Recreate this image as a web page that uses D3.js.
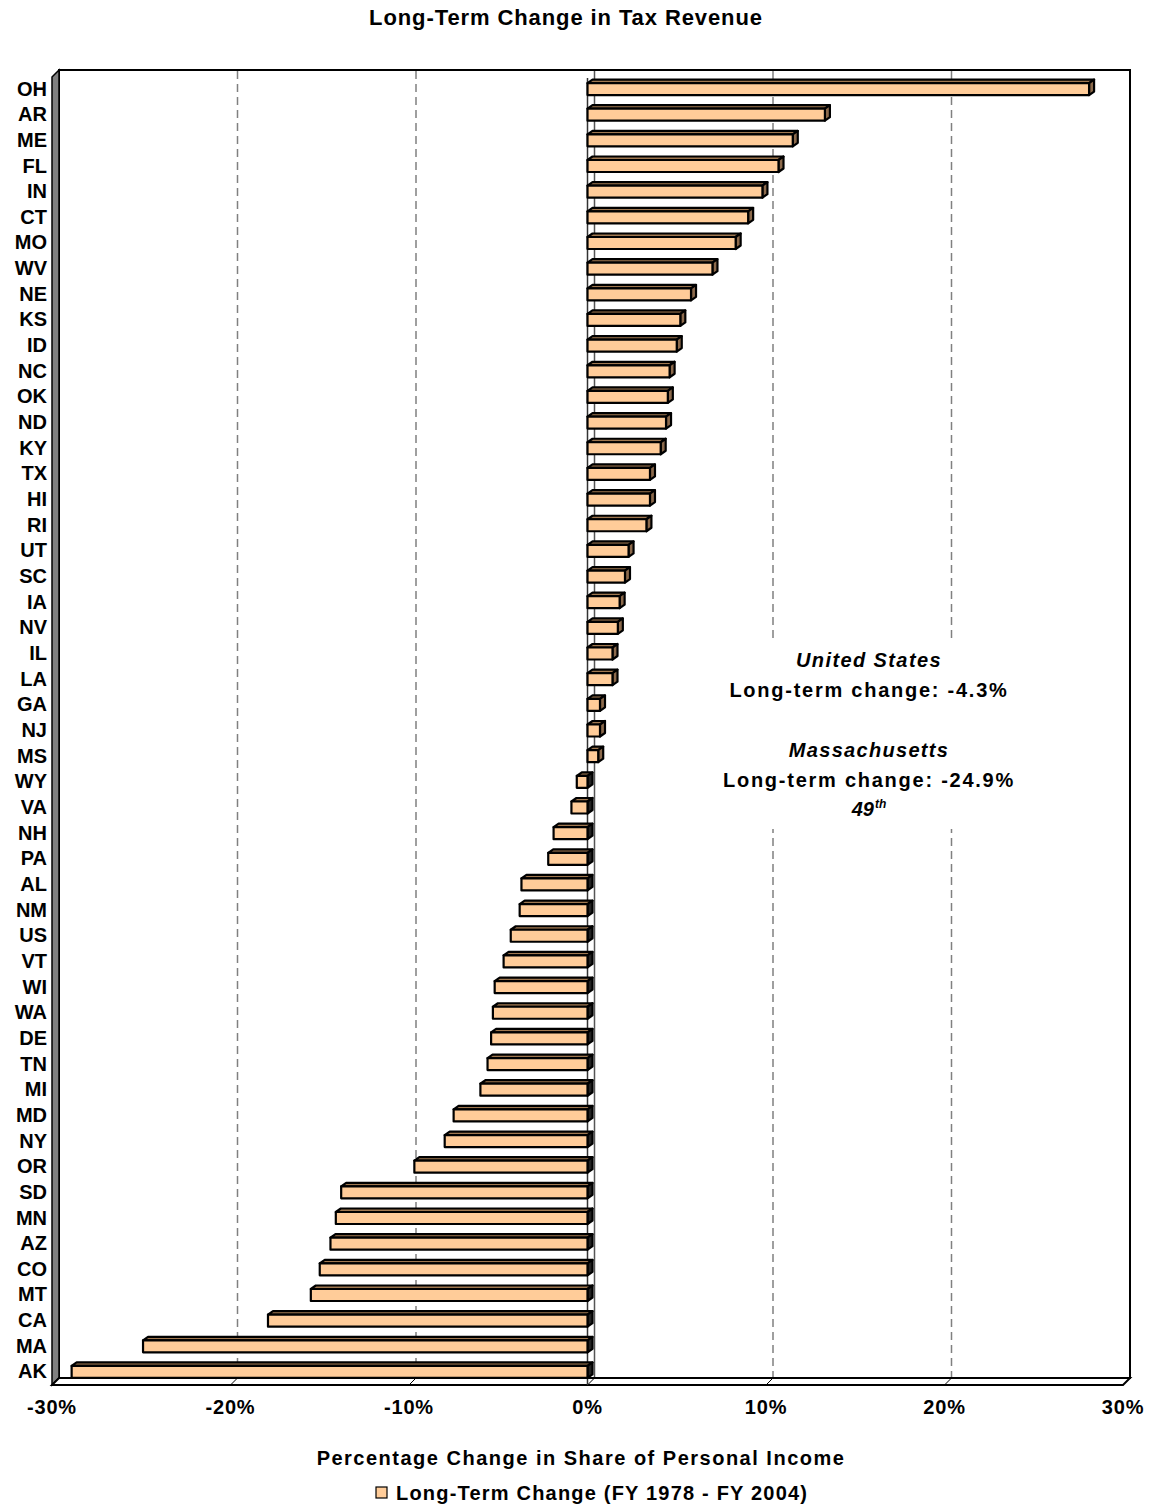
<!DOCTYPE html>
<html>
<head>
<meta charset="utf-8">
<script src="https://cdn.jsdelivr.net/npm/d3@7"></script>
<style>
  body { margin: 0; background: #fff; }
  svg text { font-family: Arial, "Liberation Sans", sans-serif; font-weight: bold; fill: #000; }
</style>
</head>
<body>
<svg id="chart" width="1153" height="1509"></svg>
<script>
// States (plus the US average), sorted by long-term change, top to bottom
const states = ["OH","AR","ME","FL","IN","CT","MO","WV","NE","KS","ID","NC","OK","ND","KY","TX","HI","RI","UT","SC","IA","NV","IL","LA","GA","NJ","MS","WY","VA","NH","PA","AL","NM","US","VT","WI","WA","DE","TN","MI","MD","NY","OR","SD","MN","AZ","CO","MT","CA","MA","AK"];

// Change in tax revenue as a share of personal income, FY 1978 - FY 2004 (%)
const changes = [28.1,13.3,11.5,10.7,9.8,9.0,8.3,7.0,5.8,5.2,5.0,4.6,4.5,4.4,4.1,3.5,3.5,3.3,2.3,2.1,1.8,1.7,1.4,1.4,0.7,0.7,0.6,-0.6,-0.9,-1.9,-2.2,-3.7,-3.8,-4.3,-4.7,-5.2,-5.3,-5.4,-5.6,-6.0,-7.5,-8.0,-9.7,-13.8,-14.1,-14.4,-15.0,-15.5,-17.9,-24.9,-28.9];

const ticks = [-30,-20,-10,0,10,20,30];
const tickLabels = ["-30%","-20%","-10%","0%","10%","20%","30%"];

const title = "Long-Term Change in Tax Revenue";
const axisTitle = "Percentage Change in Share of Personal Income";
const legendLabel = "Long-Term Change (FY 1978 - FY 2004)";

const svg = d3.select("#chart");

// front plane of the 3-D box; the back wall sits one depth step up and right
const depth = 7;
const x = d3.scaleLinear().domain([-30, 30]).range([52, 1123]);
const y = d3.scaleBand().domain(states).range([75.2, 1383.8]).padding(0);
const wallTop = 70, bottomBack = 1378, bottomFront = bottomBack + depth;

// title
svg.append("text").attr("x", 566).attr("y", 25).attr("text-anchor", "middle")
  .attr("font-size", 22).attr("letter-spacing", 0.9).text(title);

// back wall
svg.append("rect")
  .attr("x", x(-30) + depth).attr("y", wallTop)
  .attr("width", x(30) - x(-30)).attr("height", bottomBack - wallTop)
  .attr("fill", "#fff").attr("stroke", "#000").attr("stroke-width", 2);

// gridlines on the back wall
const grid = svg.append("g");
ticks.filter(t => t !== -30 && t !== 30 && t !== 0).forEach(t => {
  grid.append("line")
    .attr("x1", x(t) + depth).attr("x2", x(t) + depth)
    .attr("y1", wallTop + 1).attr("y2", bottomBack)
    .attr("stroke", "#808080").attr("stroke-width", 1.5)
    .attr("stroke-dasharray", "8,5");
});
grid.append("line")
  .attr("x1", x(0) + depth).attr("x2", x(0) + depth)
  .attr("y1", wallTop + 1).attr("y2", bottomBack)
  .attr("stroke", "#555").attr("stroke-width", 1.5);

// left side wall
svg.append("path")
  .attr("d", d3.line()([[x(-30), wallTop + depth], [x(-30) + depth, wallTop], [x(-30) + depth, bottomBack], [x(-30), bottomFront]]) + "Z")
  .attr("fill", "#808080").attr("stroke", "#000").attr("stroke-width", 1.5);

// floor
svg.append("path")
  .attr("d", d3.line()([[x(-30) + depth, bottomBack], [x(30) + depth, bottomBack], [x(30), bottomFront], [x(-30), bottomFront]]) + "Z")
  .attr("fill", "#fff").attr("stroke", "#000").attr("stroke-width", 2);
ticks.forEach(t => {
  svg.append("line")
    .attr("x1", x(t) + depth).attr("y1", bottomBack)
    .attr("x2", x(t)).attr("y2", bottomFront)
    .attr("stroke", "#000").attr("stroke-width", 1);
});

// value axis line at zero on the front plane
svg.append("line")
  .attr("x1", x(0)).attr("x2", x(0))
  .attr("y1", wallTop + depth + 1).attr("y2", bottomFront)
  .attr("stroke", "#333").attr("stroke-width", 1.5);

// annotation panel (covers the gridlines behind the text)
svg.append("rect").attr("x", 720).attr("y", 643).attr("width", 298).attr("height", 186).attr("fill", "#fff");

// 3-D bars
const dx = 5, dy = 3.5;
const bars = svg.append("g");
states.forEach((s, i) => {
  const v = changes[i];
  const c = y(s) + y.bandwidth() / 2;
  const x0 = x(Math.min(0, v)), x1 = x(Math.max(0, v));
  const t = c - 5, b = c + 7;
  const g = bars.append("g").attr("stroke", "#000").attr("stroke-width", 2.2).attr("stroke-linejoin", "round");
  g.append("path")
    .attr("d", d3.line()([[x0, t], [x1, t], [x1 + dx, t - dy], [x0 + dx, t - dy]]) + "Z")
    .attr("fill", "#A07850");
  g.append("path")
    .attr("d", d3.line()([[x1, t], [x1 + dx, t - dy], [x1 + dx, b - dy], [x1, b]]) + "Z")
    .attr("fill", v >= 0 ? "#8C6A4C" : "#222");
  g.append("rect")
    .attr("x", x0).attr("y", t).attr("width", x1 - x0).attr("height", b - t)
    .attr("fill", "#FFCC99");
});

// category labels
svg.append("g").selectAll("text").data(states).join("text")
  .attr("x", 47).attr("y", d => y(d) + y.bandwidth() / 2 + 7.5)
  .attr("text-anchor", "end").attr("font-size", 20)
  .text(d => d);

// value tick labels
svg.append("g").selectAll("text").data(ticks).join("text")
  .attr("x", d => x(d)).attr("y", 1414)
  .attr("text-anchor", "middle").attr("font-size", 20).attr("letter-spacing", 0.8)
  .text((d, i) => tickLabels[i]);

// axis title
svg.append("text").attr("x", 581).attr("y", 1465).attr("text-anchor", "middle")
  .attr("font-size", 20).attr("letter-spacing", 1.5).text(axisTitle);

// legend
svg.append("rect").attr("x", 376).attr("y", 1487).attr("width", 11).attr("height", 11)
  .attr("fill", "#FFCC99").attr("stroke", "#000").attr("stroke-width", 1.2);
svg.append("text").attr("x", 396).attr("y", 1500).attr("font-size", 20)
  .attr("letter-spacing", 1.2).text(legendLabel);

// summary annotation
const usVal = changes[states.indexOf("US")];
const maVal = changes[states.indexOf("MA")];
const ann = svg.append("g").attr("text-anchor", "middle").attr("font-size", 20);
ann.append("text").attr("x", 869).attr("y", 667).attr("font-style", "italic").attr("letter-spacing", 1.4).text("United States");
ann.append("text").attr("x", 869).attr("y", 697).attr("letter-spacing", 1.75).text("Long-term change: " + usVal.toFixed(1) + "%");
ann.append("text").attr("x", 869).attr("y", 757).attr("font-style", "italic").attr("letter-spacing", 1.3).text("Massachusetts");
ann.append("text").attr("x", 869).attr("y", 787).attr("letter-spacing", 1.75).text("Long-term change: " + maVal.toFixed(1) + "%");
const rank = ann.append("text").attr("x", 869).attr("y", 816).attr("font-style", "italic");
rank.append("tspan").text("49");
rank.append("tspan").attr("font-size", 12).attr("dy", -8).attr("dx", 1).text("th");
</script>
</body>
</html>
